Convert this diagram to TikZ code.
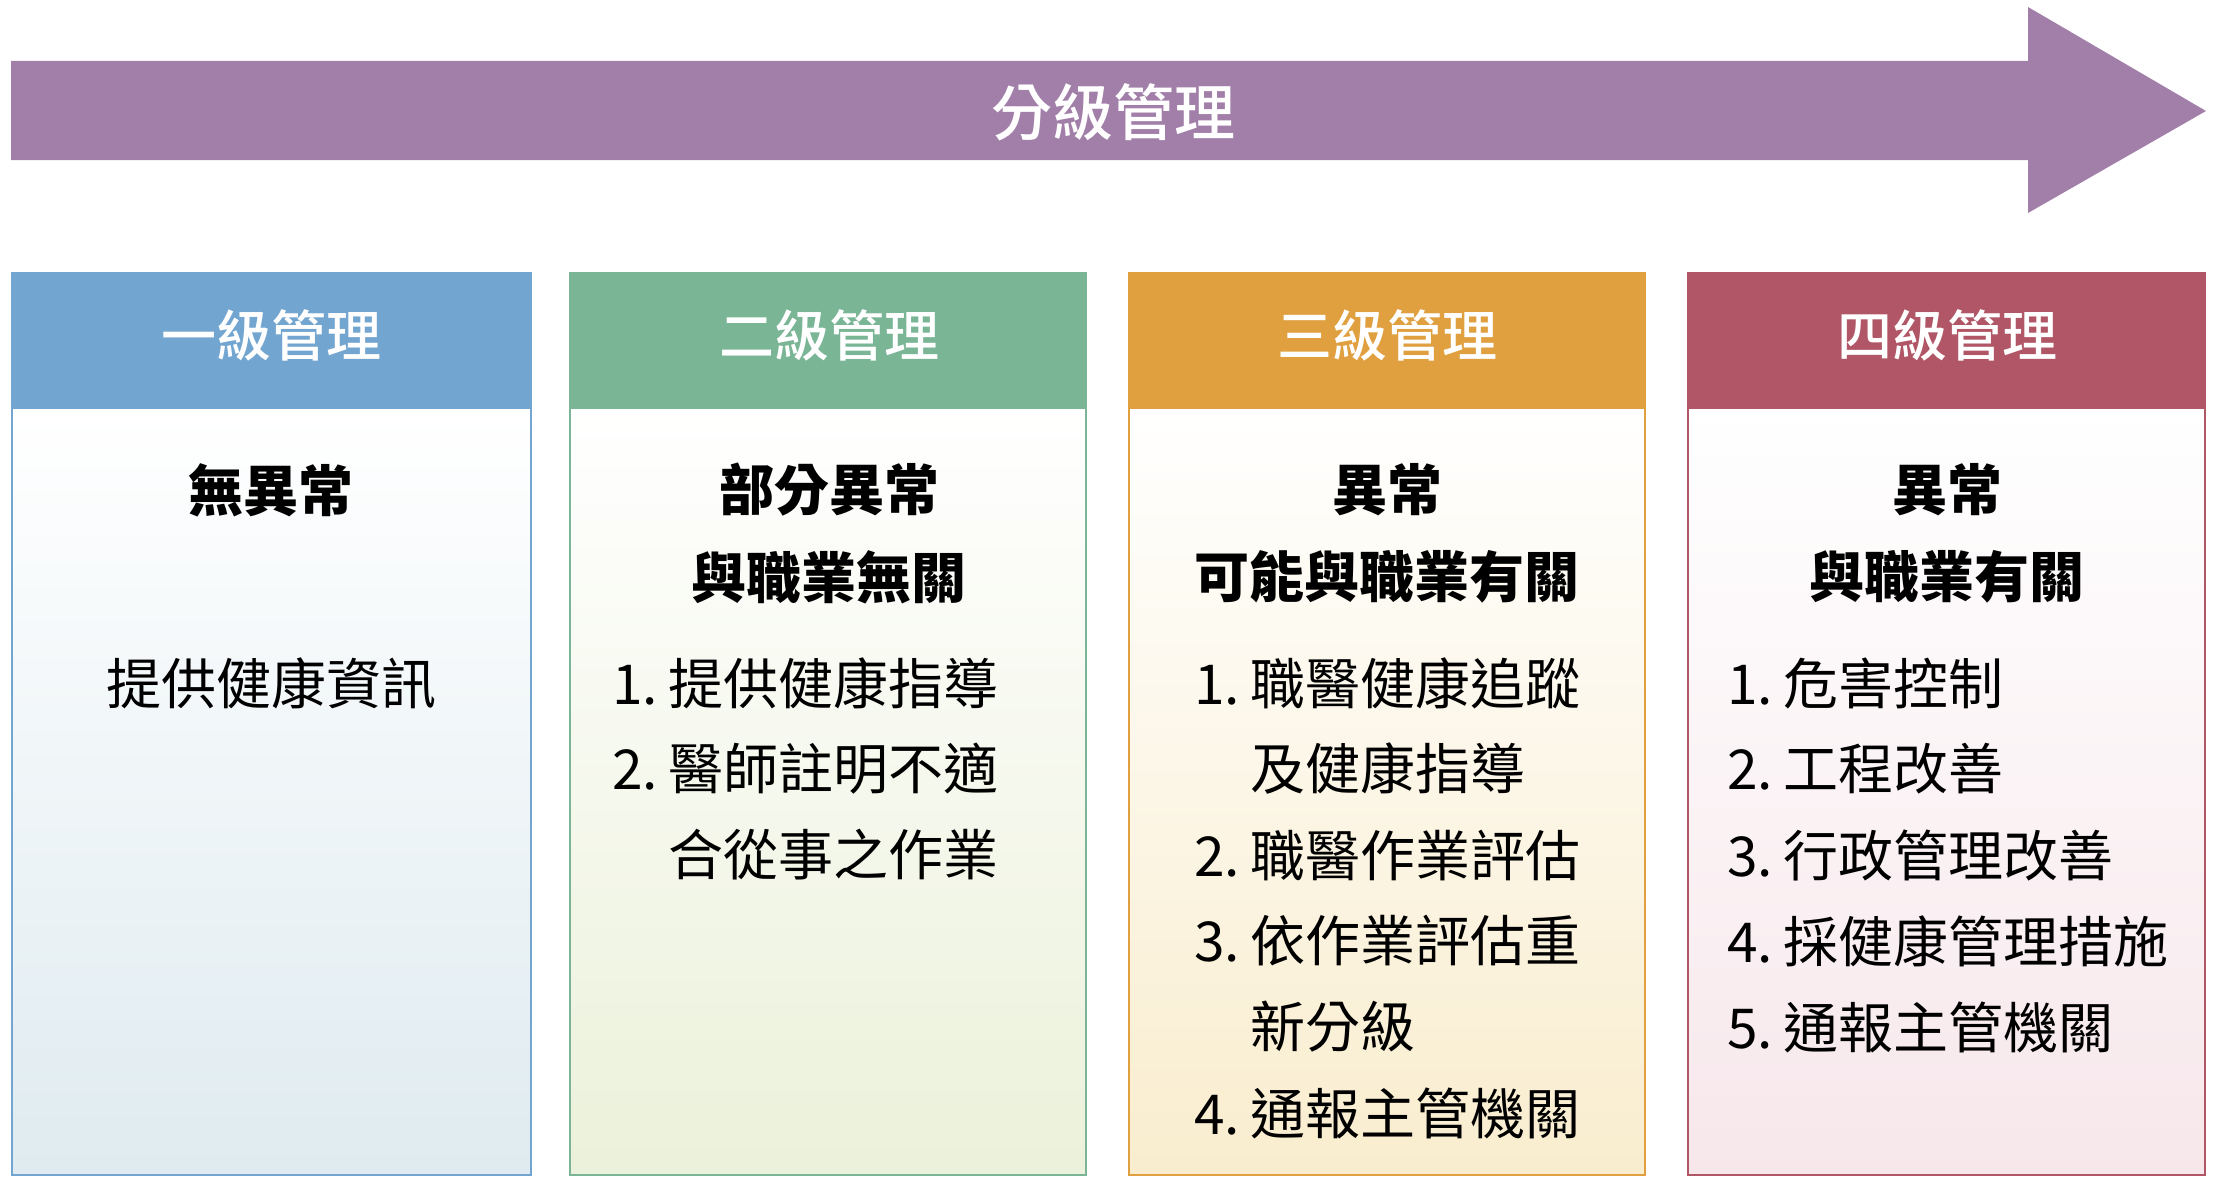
\documentclass[tikz,border=0pt]{standalone}
\usepackage{fontspec}
\setmainfont{Noto Sans CJK TC}
\newfontfamily\medfont{Noto Sans CJK TC Medium}
\usetikzlibrary{positioning}

\definecolor{flowpurple}{RGB}{161,127,169}
\definecolor{lvone}{RGB}{114,165,207}
\definecolor{lvtwo}{RGB}{122,181,150}
\definecolor{lvthree}{RGB}{224,160,64}
\definecolor{lvfour}{RGB}{176,86,102}
\definecolor{lvonebg}{RGB}{223,235,240}
\definecolor{lvtwobg}{RGB}{235,241,218}
\definecolor{lvthreebg}{RGB}{249,237,206}
\definecolor{lvfourbg}{RGB}{247,231,235}

\newcommand{\itemno}[1]{\makebox[1.02em][l]{#1}}

\tikzset{every picture/.style={line width=1pt}}
\tikzset{
  headtext/.style={text=white, font=\medfont\fontsize{27.5}{33}\selectfont, inner sep=0pt},
  titletext/.style={font=\bfseries\fontsize{27.5}{33}\selectfont, inner sep=0pt},
  itemtext/.style={font=\fontsize{27.5}{33}\selectfont, inner sep=0pt, anchor=west},
}

\begin{document}
\begin{tikzpicture}[x=0.5pt,y=0.5pt,yscale=-1,xscale=1]
\useasboundingbox (0,0) rectangle (2216,1188);

%Shape: Right Arrow
\fill [flowpurple] (11,61) -- (2028,61) -- (2028,7) -- (2206,111) -- (2028,213) -- (2028,160) -- (11,160) -- cycle ;
% Text Node
\node [headtext, font=\medfont\fontsize{30.5}{36}\selectfont] (flow) at (1113,112) {分級管理};

%Shape: Rectangle [一級]
\shade [top color=white, bottom color=lvonebg] (12,409) rectangle (531,1175) ;
\fill [lvone] (12,273) rectangle (531,409) ;
\draw [lvone] (12,273) rectangle (531,1175) ;
%Shape: Rectangle [二級]
\shade [top color=white, bottom color=lvtwobg] (570,409) rectangle (1086,1175) ;
\fill [lvtwo] (570,273) rectangle (1086,409) ;
\draw [lvtwo] (570,273) rectangle (1086,1175) ;
%Shape: Rectangle [三級]
\shade [top color=white, bottom color=lvthreebg] (1129,409) rectangle (1645,1175) ;
\fill [lvthree] (1129,273) rectangle (1645,409) ;
\draw [lvthree] (1129,273) rectangle (1645,1175) ;
%Shape: Rectangle [四級]
\shade [top color=white, bottom color=lvfourbg] (1688,409) rectangle (2205,1175) ;
\fill [lvfour] (1688,273) rectangle (2205,409) ;
\draw [lvfour] (1688,273) rectangle (2205,1175) ;

% Text Node
\node [headtext] (head1) at (271,335) {一級管理};
% Text Node
\node [headtext] (head2) at (829,335) {二級管理};
% Text Node
\node [headtext] (head3) at (1387,335) {三級管理};
% Text Node
\node [headtext] (head4) at (1947,335) {四級管理};

% Text Node
\node [titletext] (title1) at (271,490) {無異常};
% Text Node
\node [titletext] (title2a) at (829,490) {部分異常};
\node [titletext] (title2b) at (829,577) {與職業無關};
% Text Node
\node [titletext] (title3a) at (1387,490) {異常};
\node [titletext] (title3b) at (1387,577) {可能與職業有關};
% Text Node
\node [titletext] (title4a) at (1947,490) {異常};
\node [titletext] (title4b) at (1947,577) {與職業有關};

% Text Node
\node [itemtext, anchor=center] (one-1) at (271,683) {提供健康資訊};
% Text Node
\foreach \t [count=\i] in {\itemno{1.}提供健康指導, \itemno{2.}醫師註明不適, \itemno{}合從事之作業}
  \node [itemtext] (two-\i) at (611,597+86*\i) {\t};
% Text Node
\foreach \t [count=\i] in {\itemno{1.}職醫健康追蹤, \itemno{}及健康指導, \itemno{2.}職醫作業評估, \itemno{3.}依作業評估重, \itemno{}新分級, \itemno{4.}通報主管機關}
  \node [itemtext] (three-\i) at (1193,597+86*\i) {\t};
% Text Node
\foreach \t [count=\i] in {\itemno{1.}危害控制, \itemno{2.}工程改善, \itemno{3.}行政管理改善, \itemno{4.}採健康管理措施, \itemno{5.}通報主管機關}
  \node [itemtext] (four-\i) at (1726,597+86*\i) {\t};

\end{tikzpicture}
\end{document}
